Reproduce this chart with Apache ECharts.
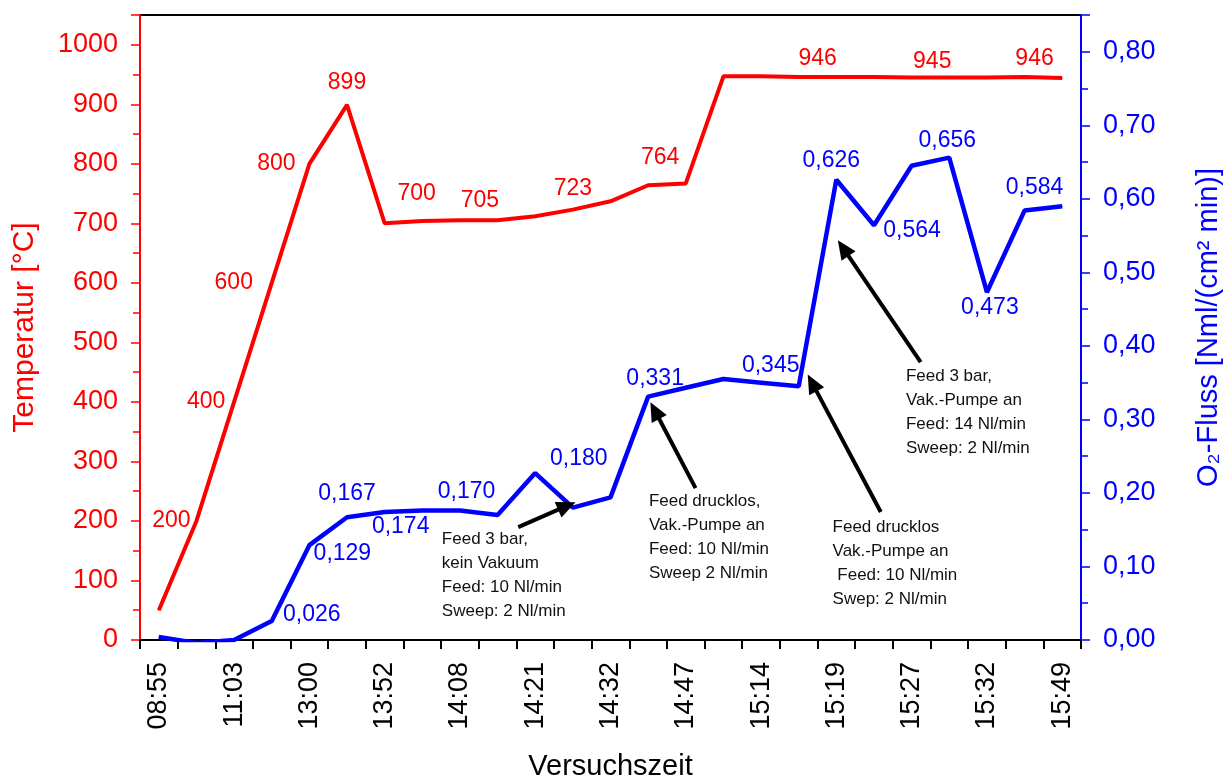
<!DOCTYPE html>
<html>
<head>
<meta charset="utf-8">
<script src="https://cdn.jsdelivr.net/npm/echarts@6/dist/echarts.min.js"></script>
<style>
  html, body { margin: 0; padding: 0; background: #fff; }
  #chart { width: 1231px; height: 780px; }
</style>
</head>
<body>
<div id="chart"></div>
<script>
// Clock times shown on the time axis (every second measurement slot)
const timeLabels = ['08:55', '11:03', '13:00', '13:52', '14:08', '14:21', '14:32',
                    '14:47', '15:14', '15:19', '15:27', '15:32', '15:49'];

// Furnace temperature per measurement slot [°C]
const temperature = [50, 200, 400, 600, 800, 899, 700, 704, 705, 705, 712, 723, 737,
                     764, 767, 947, 947, 946, 946, 946, 945, 945, 945, 946, 944];

// Oxygen flux per measurement slot [Nml/(cm² min)]
const o2Flux = [0.004, -0.004, 0.000, 0.026, 0.129, 0.167, 0.174, 0.176, 0.176, 0.170,
                0.227, 0.180, 0.194, 0.331, 0.343, 0.355, 0.350, 0.345, 0.626, 0.564,
                0.645, 0.656, 0.473, 0.584, 0.590];

// Which slots carry a value label
const tempLabelled = [1, 2, 3, 4, 5, 6, 8, 11, 13, 17, 21, 23];
const fluxLabelled = [3, 4, 5, 6, 9, 11, 13, 17, 18, 19, 21, 22, 23];

// Operating-condition notes (anchored in slot index / flux units)
const notes = [
  { lines: ['Feed 3 bar,', 'kein Vakuum', 'Feed: 10 Nl/min', 'Sweep: 2 Nl/min'],
    text: [7.52, 0.137], tail: [9.55, 0.1535], tip: [11.07, 0.1875] },
  { lines: ['Feed drucklos,', 'Vak.-Pumpe an', 'Feed: 10 Nl/min', 'Sweep 2 Nl/min'],
    text: [13.02, 0.188], tail: [14.26, 0.2065], tip: [13.06, 0.3234] },
  { lines: ['Feed drucklos', 'Vak.-Pumpe an', ' Feed: 10 Nl/min', 'Swep: 2 Nl/min'],
    text: [17.90, 0.1535], tail: [19.18, 0.174], tip: [17.24, 0.361] },
  { lines: ['Feed 3 bar,', 'Vak.-Pumpe an', 'Feed: 14 Nl/min', 'Sweep: 2 Nl/min'],
    text: [19.85, 0.358], tail: [20.24, 0.378], tip: [18.04, 0.5435] }
];

// ---- presentation settings ----
const FONT = '"Liberation Sans", Arial, Helvetica, sans-serif';
const RED = '#ff0000';
const BLUE = '#0000ff';

// label placement relative to the point [dx, dy]
const tempLabelShift = {
  1: [-25, 0], 2: [-28, 0], 3: [-38, 0], 4: [-33, 0], 5: [0, -22], 6: [32, -30],
  8: [20, -20], 11: [0, -21], 13: [12, -28], 17: [19, -18], 21: [-17, -16], 23: [10, -18]
};
const fluxLabelShift = {
  3: [40, -6], 4: [33, 9], 5: [0, -24], 6: [16, 15], 9: [-31, -23], 11: [6, -49],
  13: [7, -18], 17: [-28, -21], 18: [-5, -19], 19: [38, 5], 21: [-2, -17],
  22: [3, 15], 23: [10, -23]
};

// 25 slots; only every second one has a clock time printed
const categories = [];
timeLabels.forEach((t, k) => {
  categories.push(t);
  if (k < timeLabels.length - 1) categories.push('');
});

const fmtFlux = v => v.toFixed(3).replace('.', ',');

function withLabels(values, labelled, shifts, formatter) {
  return values.map((v, i) => {
    if (labelled.indexOf(i) < 0) return v;
    return {
      value: v,
      label: { show: true, position: 'inside', offset: shifts[i] || [0, 0],
               formatter: p => formatter(p.value) }
    };
  });
}

const chart = echarts.init(document.getElementById('chart'), null, { renderer: 'canvas' });

chart.setOption({
  animation: false,
  backgroundColor: '#fff',
  textStyle: { fontFamily: FONT },
  grid: {
    left: 140, right: 150, top: 15, bottom: 140,
    show: true, borderColor: '#000', borderWidth: 2,
    containLabel: false, outerBoundsMode: 'none'
  },
  xAxis: {
    type: 'category',
    data: categories,
    boundaryGap: true,
    name: 'Versuchszeit',
    nameLocation: 'middle',
    nameGap: 112,
    nameMoveOverlap: false,
    nameTextStyle: { fontSize: 29, color: '#000', fontFamily: FONT },
    axisLine: { show: true, lineStyle: { color: '#000', width: 2 } },
    axisTick: { show: true, interval: 0, length: 9, lineStyle: { color: '#000', width: 2 } },
    axisLabel: { interval: 1, rotate: 90, fontSize: 27, color: '#000', margin: 22, fontFamily: FONT },
    splitLine: { show: false }
  },
  yAxis: [
    {
      type: 'value',
      position: 'left',
      min: 0, max: 1050, interval: 100,
      name: 'Temperatur [°C]',
      nameLocation: 'middle',
      nameGap: 100,
      nameMoveOverlap: false,
      nameTextStyle: { fontSize: 30, color: RED, fontFamily: FONT },
      axisLine: { show: true, lineStyle: { color: RED, width: 2 } },
      axisTick: { show: true, length: 9, lineStyle: { color: RED, width: 1.5 } },
      minorTick: { show: true, splitNumber: 2, length: 7, lineStyle: { color: RED, width: 1.5 } },
      axisLabel: {
        fontSize: 27, color: RED, margin: 22, showMaxLabel: false, fontFamily: FONT,
        formatter: v => String(v)
      },
      splitLine: { show: false }
    },
    {
      type: 'value',
      position: 'right',
      min: 0, max: 0.85, interval: 0.1,
      name: 'O\u2082-Fluss [Nml/(cm\u00b2 min)]',
      nameLocation: 'middle',
      nameGap: 113,
      nameMoveOverlap: false,
      nameTextStyle: { fontSize: 29, color: BLUE, fontFamily: FONT },
      axisLine: { show: true, lineStyle: { color: BLUE, width: 2 } },
      axisTick: { show: true, length: 9, lineStyle: { color: BLUE, width: 1.5 } },
      minorTick: { show: true, splitNumber: 2, length: 7, lineStyle: { color: BLUE, width: 1.5 } },
      axisLabel: {
        fontSize: 27, color: BLUE, margin: 22, showMaxLabel: false, fontFamily: FONT,
        formatter: v => v.toFixed(2).replace('.', ',')
      },
      splitLine: { show: false }
    }
  ],
  series: [
    {
      name: 'Temperatur',
      type: 'line',
      yAxisIndex: 0,
      data: withLabels(temperature, tempLabelled, tempLabelShift, v => String(Math.round(v))),
      symbol: 'circle', symbolSize: 1, showSymbol: true,
      itemStyle: { color: RED },
      lineStyle: { color: RED, width: 4 },
      label: { show: false, color: RED, fontSize: 23, fontFamily: FONT },
      emphasis: { disabled: true },
      z: 3
    },
    {
      name: 'O2-Fluss',
      type: 'line',
      yAxisIndex: 1,
      data: withLabels(o2Flux, fluxLabelled, fluxLabelShift, fmtFlux),
      symbol: 'circle', symbolSize: 1, showSymbol: true,
      itemStyle: { color: BLUE },
      lineStyle: { color: BLUE, width: 4.5 },
      label: { show: false, color: BLUE, fontSize: 23, fontFamily: FONT },
      emphasis: { disabled: true },
      z: 4
    }
  ]
});

// Map a (fractional slot index, flux) pair to pixels using the chart's own axes
function toPixel(idx, flux) {
  const x0 = chart.convertToPixel({ xAxisIndex: 0 }, 0);
  const x1 = chart.convertToPixel({ xAxisIndex: 0 }, 1);
  const y = chart.convertToPixel({ yAxisIndex: 1 }, flux);
  return [x0 + (x1 - x0) * idx, y];
}

function arrow(tailPt, tipPt) {
  const dx = tipPt[0] - tailPt[0], dy = tipPt[1] - tailPt[1];
  const len = Math.hypot(dx, dy);
  const ux = dx / len, uy = dy / len;
  const headLen = 19, headHalf = 8.5;
  const base = [tipPt[0] - ux * headLen, tipPt[1] - uy * headLen];
  const nx = -uy, ny = ux;
  return [
    { type: 'line', z: 10,
      shape: { x1: tailPt[0], y1: tailPt[1], x2: base[0] + ux * 2, y2: base[1] + uy * 2 },
      style: { stroke: '#000', lineWidth: 4 } },
    { type: 'polygon', z: 10,
      shape: { points: [tipPt,
        [base[0] + nx * headHalf, base[1] + ny * headHalf],
        [base[0] - nx * headHalf, base[1] - ny * headHalf]] },
      style: { fill: '#000' } }
  ];
}

const graphics = [];
notes.forEach(n => {
  const tp = toPixel(n.text[0], n.text[1]);
  graphics.push({
    type: 'text', z: 10, x: tp[0], y: tp[1] - 12,
    style: {
      text: n.lines.join('\n'),
      fontSize: 17, fontFamily: FONT, fill: '#111',
      lineHeight: 24, align: 'left', verticalAlign: 'top'
    }
  });
  arrow(toPixel(n.tail[0], n.tail[1]), toPixel(n.tip[0], n.tip[1])).forEach(g => graphics.push(g));
});
chart.setOption({ graphic: graphics });
</script>
</body>
</html>
